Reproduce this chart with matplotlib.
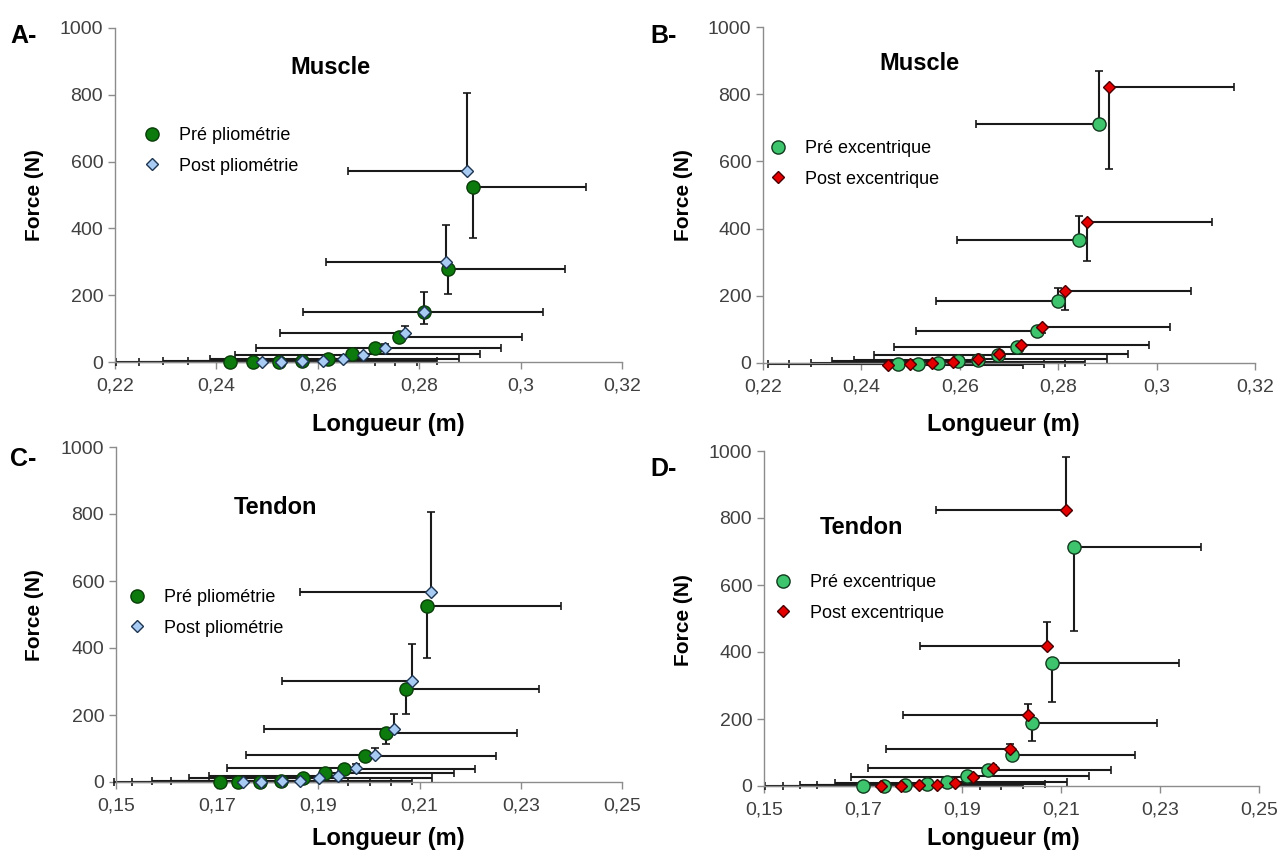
import numpy as np
import matplotlib
matplotlib.use('Agg')
import matplotlib.pyplot as plt
from matplotlib.ticker import FuncFormatter

plt.rcParams['font.family'] = ['Liberation Sans', 'DejaVu Sans']

# Panel A - muscle, pliometrie (points from lowest to highest force)
a_pre_x = [0.2427, 0.2473, 0.2523, 0.2569, 0.2620, 0.2667, 0.2713, 0.2760, 0.2809, 0.2857, 0.2906]
a_pre_f = [0, 0, 1, 3, 8, 24, 42, 76, 149, 278, 525]
a_pre_xerr = [0.0285, 0.0280, 0.0272, 0.0267, 0.0258, 0.0252, 0.0248, 0.0242, 0.0235, 0.0230, 0.0223]
a_pre_ferr = [0, 0, 0.5, 1, 2, 4, 7, 12, 36, 75, 155]
a_post_x = [0.2489, 0.2527, 0.2569, 0.2610, 0.2650, 0.2690, 0.2733, 0.2772, 0.2809, 0.2853, 0.2894]
a_post_f = [0, 1, 3, 4, 9, 21, 43, 86, 150, 299, 573]
a_post_xerr = [0.0287, 0.0279, 0.0274, 0.0267, 0.0263, 0.0253, 0.0254, 0.0247, 0.0238, 0.0237, 0.0234]
a_post_ferr = [0, 0.5, 1, 1.5, 3, 5, 10, 21, 60, 111, 231]

# Panel B - muscle, excentrique
b_pre_x = [0.2475, 0.2516, 0.2556, 0.2597, 0.2636, 0.2677, 0.2717, 0.2757, 0.2800, 0.2842, 0.2883]
b_pre_f = [-3, -2, 1, 5, 10, 23, 49, 94, 185, 365, 711]
b_pre_xerr = [0.0264, 0.0263, 0.0259, 0.0256, 0.0251, 0.0251, 0.0250, 0.0247, 0.0248, 0.0248, 0.0250]
b_pre_ferr = [0, 0, 0.5, 1, 2, 3, 6, 12, 37, 73, 157]
b_post_x = [0.2455, 0.2499, 0.2543, 0.2587, 0.2636, 0.2680, 0.2725, 0.2768, 0.2814, 0.2859, 0.2904]
b_post_f = [-5, -2, 1, 3, 11, 26, 53, 106, 213, 419, 822]
b_post_xerr = [0.0273, 0.0272, 0.0271, 0.0267, 0.0263, 0.0261, 0.0259, 0.0259, 0.0255, 0.0254, 0.0254]
b_post_ferr = [0, 0, 1, 1, 2, 4, 8, 18, 54, 114, 245]

# Panel C - tendon, pliometrie
c_pre_x = [0.1705, 0.1742, 0.1784, 0.1826, 0.1870, 0.1914, 0.1951, 0.1992, 0.2033, 0.2074, 0.2115]
c_pre_f = [0, 0, 1, 3, 11, 26, 39, 78, 147, 278, 526]
c_pre_xerr = [0.0254, 0.0259, 0.0259, 0.0258, 0.0255, 0.0253, 0.0258, 0.0258, 0.0259, 0.0262, 0.0264]
c_pre_ferr = [0, 0, 0.5, 1, 2, 4, 6, 10, 34, 75, 157]
c_post_x = [0.1751, 0.1787, 0.1828, 0.1863, 0.1902, 0.1938, 0.1975, 0.2011, 0.2049, 0.2085, 0.2123]
c_post_f = [0, 1, 3, 4, 13, 19, 43, 81, 157, 301, 568]
c_post_xerr = [0.0255, 0.0255, 0.0256, 0.0254, 0.0257, 0.0255, 0.0256, 0.0254, 0.0256, 0.0257, 0.0259]
c_post_ferr = [0, 0.5, 1, 1.5, 3, 5, 10, 20, 47, 110, 237]

# Panel D - tendon, excentrique
d_pre_x = [0.1699, 0.1742, 0.1785, 0.1829, 0.1869, 0.1911, 0.1953, 0.2000, 0.2041, 0.2082, 0.2126]
d_pre_f = [0, 1, 2, 5, 13, 30, 47, 93, 188, 366, 714]
d_pre_xerr = [0.0237, 0.0237, 0.0239, 0.0239, 0.0244, 0.0246, 0.0249, 0.0249, 0.0252, 0.0256, 0.0257]
d_pre_ferr = [0, 0, 1, 1, 2, 4, 8, 15, 55, 116, 250]
d_post_x = [0.1736, 0.1776, 0.1814, 0.1849, 0.1886, 0.1923, 0.1962, 0.1997, 0.2034, 0.2071, 0.2110]
d_post_f = [0, 1, 2, 4, 9, 26, 54, 110, 213, 418, 823]
d_post_xerr = [0.0234, 0.0238, 0.0241, 0.0241, 0.0243, 0.0247, 0.0251, 0.0251, 0.0254, 0.0256, 0.0263]
d_post_ferr = [0, 0.5, 1, 1, 2, 4, 8, 16, 33, 72, 158]

muscle_xticks = [0.22, 0.24, 0.26, 0.28, 0.30, 0.32]
tendon_xticks = [0.15, 0.17, 0.19, 0.21, 0.23, 0.25]
force_ticks = [0, 200, 400, 600, 800, 1000]

W, H = 1277, 851
fig = plt.figure(figsize=(W / 100, H / 100), dpi=100)


def px_axes(l, t, r, b):
    return fig.add_axes([l / W, 1 - b / H, (r - l) / W, (b - t) / H])


def fig_xy(x, y):
    return x / W, 1 - y / H


GRAY = '#8c8c8c'
comma = FuncFormatter(lambda v, p: ('%g' % round(v, 2)).replace('.', ','))


def style(ax, xticks):
    ax.set_xlim(xticks[0], xticks[-1])
    ax.set_ylim(0, 1000)
    ax.set_xticks(xticks)
    ax.set_yticks(force_ticks)
    ax.xaxis.set_major_formatter(comma)
    for s in ['top', 'right']:
        ax.spines[s].set_visible(False)
    for s in ['left', 'bottom']:
        ax.spines[s].set_color(GRAY)
        ax.spines[s].set_linewidth(1)
    ax.tick_params(colors=GRAY, length=5, width=1, labelcolor='#404040', labelsize=14)
    ax.tick_params(axis='x', pad=6)


def series(ax, x, f, xerr, ferr, right, marker, face, edge, ms, label, z):
    x = np.array(x)
    f = np.array(f)
    xerr = np.array(xerr)
    ferr = np.array(ferr)
    zero = np.zeros_like(xerr)
    if right:
        xe = [zero, xerr]
        fe = [ferr, np.zeros_like(ferr)]
    else:
        xe = [xerr, zero]
        fe = [np.zeros_like(ferr), ferr]
    ax.errorbar(x, f, xerr=xe, yerr=fe, fmt='none', ecolor='#1a1a1a',
                elinewidth=1.5, capsize=3, capthick=1.2, zorder=2, clip_on=False)
    h, = ax.plot(x, f, linestyle='none', marker=marker, markersize=ms,
                 markerfacecolor=face, markeredgecolor=edge, markeredgewidth=1,
                 label=label, zorder=z, clip_on=False)
    return h


PRE_PLIO = dict(marker='o', face='#0c7a0c', edge='#0a3d0a', ms=9.5)
POST_PLIO = dict(marker='D', face='#a7cbf2', edge='#1e3552', ms=6.5)
PRE_EXC = dict(marker='o', face='#3dc46c', edge='#123a1e', ms=9.5)
POST_EXC = dict(marker='D', face='#e50000', edge='#4a0000', ms=6.5)


def legend(ax, handles, mx, my):
    ax.legend(handles=handles, loc='upper left', frameon=False,
              bbox_to_anchor=fig_xy(mx - 9, my - 7), bbox_transform=fig.transFigure,
              borderaxespad=0, borderpad=0, handlelength=1.0, handletextpad=1.0,
              labelspacing=0.75, fontsize=13, numpoints=1)


def texts(ax, letter, lxy, title, txy, ylab_xy, xlab_xy):
    fig.text(*fig_xy(*lxy), letter, fontsize=18, fontweight='bold', ha='left', va='center')
    fig.text(*fig_xy(*txy), title, fontsize=17, fontweight='bold', ha='center', va='center')
    fig.text(*fig_xy(*ylab_xy), 'Force (N)', fontsize=15, fontweight='bold',
             rotation=90, ha='center', va='center')
    fig.text(*fig_xy(*xlab_xy), 'Longueur (m)', fontsize=17, fontweight='bold',
             ha='center', va='center')


# A
axA = px_axes(115, 28, 622, 362)
style(axA, muscle_xticks)
h1 = series(axA, a_pre_x, a_pre_f, a_pre_xerr, a_pre_ferr, True, label='Pré pliométrie', z=3, **PRE_PLIO)
h2 = series(axA, a_post_x, a_post_f, a_post_xerr, a_post_ferr, False, label='Post pliométrie', z=4, **POST_PLIO)
legend(axA, [h1, h2], 152, 134)
texts(axA, 'A-', (10, 36), 'Muscle', (330, 68), (35, 195), (388, 425))

# B
axB = px_axes(763, 27, 1255, 363)
style(axB, muscle_xticks)
h1 = series(axB, b_pre_x, b_pre_f, b_pre_xerr, b_pre_ferr, False, label='Pré excentrique', z=3, **PRE_EXC)
h2 = series(axB, b_post_x, b_post_f, b_post_xerr, b_post_ferr, True, label='Post excentrique', z=4, **POST_EXC)
legend(axB, [h1, h2], 778, 147)
texts(axB, 'B-', (650, 36), 'Muscle', (919, 63), (683, 195), (1003, 425))

# C
axC = px_axes(116, 447, 622, 782)
style(axC, tendon_xticks)
h1 = series(axC, c_pre_x, c_pre_f, c_pre_xerr, c_pre_ferr, True, label='Pré pliométrie', z=3, **PRE_PLIO)
h2 = series(axC, c_post_x, c_post_f, c_post_xerr, c_post_ferr, False, label='Post pliométrie', z=4, **POST_PLIO)
legend(axC, [h1, h2], 137, 596)
texts(axC, 'C-', (10, 459), 'Tendon', (276, 508), (35, 615), (388, 838))

# D
axD = px_axes(764, 451, 1259, 786)
style(axD, tendon_xticks)
h1 = series(axD, d_pre_x, d_pre_f, d_pre_xerr, d_pre_ferr, True, label='Pré excentrique', z=3, **PRE_EXC)
h2 = series(axD, d_post_x, d_post_f, d_post_xerr, d_post_ferr, False, label='Post excentrique', z=4, **POST_EXC)
legend(axD, [h1, h2], 783, 581)
texts(axD, 'D-', (650, 469), 'Tendon', (861, 527), (683, 620), (1003, 838))

fig.savefig('out.png', dpi=100)
